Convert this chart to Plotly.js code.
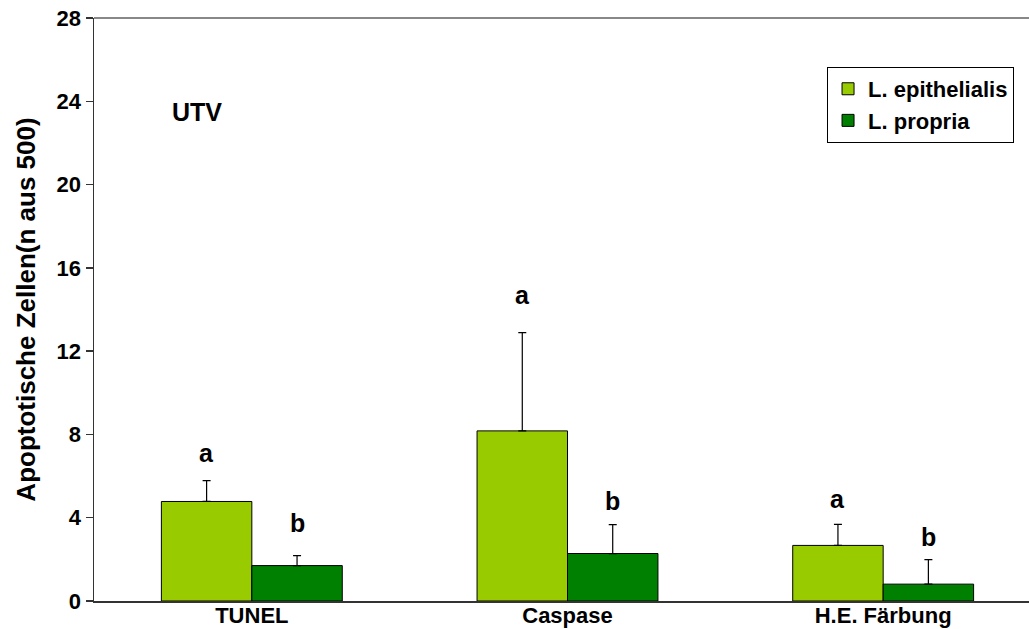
<!DOCTYPE html>
<html>
<head>
<meta charset="utf-8">
<script src="https://cdn.plot.ly/plotly-3.0.1.min.js"></script>
<style>html,body{margin:0;padding:0;background:#fff;}#chart{width:1029px;height:629px;}</style>
</head>
<body>
<div id="chart"></div>
<script>
// Data
const categories = ["TUNEL", "Caspase", "H.E. Färbung"];
const seriesNames = ["L. epithelialis", "L. propria"];
const epithelialis = [4.78, 8.17, 2.67];
const epithelialisErr = [1.00, 4.72, 1.01];
const propria = [1.70, 2.28, 0.81];
const propriaErr = [0.48, 1.39, 1.18];
const labelsEpi = ["a", "a", "a"];
const labelsEpiY = [7.13, 14.72, 4.88];
const labelsPro = ["b", "b", "b"];
const labelsProY = [3.77, 4.79, 3.05];
const yTicks = [0, 4, 8, 12, 16, 20, 24, 28];

const FONT = "Liberation Sans, Arial, sans-serif";
const xIdx = categories.map((c, i) => i);

const traces = [
  {
    type: "bar", name: seriesNames[0], x: xIdx, y: epithelialis,
    marker: {color: "#99CC00", line: {color: "#000", width: 1}},
    error_y: {type: "data", array: epithelialisErr, arrayminus: epithelialis.map(() => 0), symmetric: false,
              color: "#000", thickness: 1.2, width: 4}
  },
  {
    type: "bar", name: seriesNames[1], x: xIdx, y: propria,
    marker: {color: "#008000", line: {color: "#000", width: 1}},
    error_y: {type: "data", array: propriaErr, arrayminus: propria.map(() => 0), symmetric: false,
              color: "#000", thickness: 1.2, width: 4}
  }
];

const barHalf = 0.1435;
const annotations = [];
labelsEpi.forEach((t, i) => annotations.push({x: i - barHalf, y: labelsEpiY[i], text: t, showarrow: false,
  xref: "x", yref: "y", xanchor: "center", yanchor: "middle",
  font: {family: FONT, size: 25, weight: "bold", color: "#000"}}));
labelsPro.forEach((t, i) => annotations.push({x: i + barHalf, y: labelsProY[i], text: t, showarrow: false,
  xref: "x", yref: "y", xanchor: "center", yanchor: "middle",
  font: {family: FONT, size: 25, weight: "bold", color: "#000"}}));
annotations.push({xref: "paper", yref: "paper", x: 0.110, y: 0.839, text: "UTV", showarrow: false,
  xanchor: "center", yanchor: "middle",
  font: {family: FONT, size: 25, weight: "bold", color: "#000"}});

const layout = {
  width: 1029, height: 629,
  margin: {l: 94, r: 0, t: 18, b: 28},
  paper_bgcolor: "#fff", plot_bgcolor: "#fff",
  barmode: "group", bargap: 0.427, bargroupgap: 0,
  font: {family: FONT, size: 20, color: "#000", weight: "bold"},
  showlegend: true,
  legend: {x: 0.784, y: 0.916, xanchor: "left", yanchor: "top", bgcolor: "#fff",
           bordercolor: "#000", borderwidth: 1, font: {family: FONT, size: 22, weight: "bold"},
           traceorder: "normal", tracegroupgap: 4},
  xaxis: {
    range: [-0.5, 2.462], tickvals: xIdx, ticktext: categories,
    showgrid: false, zeroline: false, showline: true, linecolor: "#333", linewidth: 1.5,
    ticks: "", ticklabelstandoff: -6, tickfont: {family: FONT, size: 22, weight: "bold"}, fixedrange: true
  },
  yaxis: {
    range: [0, 28], tickvals: yTicks, showgrid: false, zeroline: false,
    showline: true, linecolor: "#333", linewidth: 1.5, ticks: "outside", ticklen: 7, tickcolor: "#333",
    tickwidth: 1.5, tickfont: {family: FONT, size: 22, weight: "bold"},
    title: {text: "Apoptotische Zellen(n aus 500)", standoff: 13,
            font: {family: FONT, size: 26, weight: "bold"}},
    automargin: false
  },
  shapes: [{type: "line", xref: "paper", yref: "paper", x0: 0, x1: 1, y0: 1, y1: 1,
            line: {color: "#888", width: 2}}],
  annotations: annotations
};

Plotly.newPlot("chart", traces, layout, {displayModeBar: false, staticPlot: true});
</script>
</body>
</html>
